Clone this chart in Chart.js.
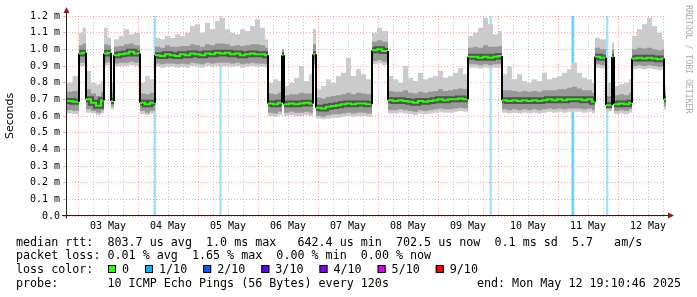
<!DOCTYPE html>
<html>
<head>
<meta charset="utf-8">
<script src="https://cdn.jsdelivr.net/npm/chart.js@4.4.1/dist/chart.umd.min.js"></script>
<style>
  html, body { margin: 0; padding: 0; background: #fff; }
  canvas { display: block; }
</style>
</head>
<body>
<canvas id="chart" width="697" height="297"></canvas>
<script>
// x is hours since Fri May 02 19:10:46, the graph covers 10 days
const windowHours = 240;
const firstMidnight = 4.82; // 03 May 00:00
const dayLabels = ['03 May', '04 May', '05 May', '06 May', '07 May', '08 May', '09 May', '10 May', '11 May', '12 May'];

// start of each sample (hours), one row per flat stretch of the graph
const sampleHours = [
  0, 2.6,
  5.2, 6.6,
  8, 10, 12, 14,
  15.2, 16.6,
  18,
  19.2, 21.2, 23.2, 25.2, 27.2,
  29.6, 31.6, 33.6,
  35.6, 37.6, 39.6, 41.6, 43.6, 45.6, 47.6, 49.6, 51.6, 53.6, 55.6, 57.6, 59.6, 61.6, 63.6, 65.6, 67.6, 69.6, 71.6, 73.6, 75.6, 77.6, 79.6,
  80.8, 82.8, 84.8,
  86.4,
  87.2, 89.2, 91.2, 93.2, 95.2, 97.2,
  98.8,
  100, 102, 104, 106, 108, 110, 112, 114, 116, 118, 120,
  122.4, 124.4, 126.4,
  128.8, 130.8, 132.8, 134.8, 136.8, 138.8, 140.8, 142.8, 144.8, 146.8, 148.8, 150.8, 152.8, 154.8, 156.8, 158.8,
  160.8, 162.8, 164.8, 166.8, 168.8, 170.8, 172.8,
  174.4, 176.4, 178.4, 180.4, 182.4, 184.4, 186.4, 188.4, 190.4, 192.4, 194.4, 196.4, 198.4, 200.4, 202.4, 204.4, 206.4, 208.4, 210.4,
  211.6, 213.6,
  216,
  218.4,
  219.2, 221.2, 223.2, 225.2,
  226.4, 228.4, 230.4, 232.4, 234.4, 236.4, 238.4,
  239.2
];

// median rtt (ms)
const medianRtt = [
  0.690, 0.685,
  0.975, 0.980,
  0.700, 0.680, 0.662, 0.695,
  0.975, 0.980,
  0.690,
  0.965, 0.970, 0.975, 0.985, 0.975,
  0.680, 0.670, 0.680,
  0.965, 0.960, 0.970, 0.965, 0.960, 0.970, 0.965, 0.975, 0.970, 0.965, 0.975, 0.970, 0.980, 0.975, 0.980, 0.970, 0.975, 0.965, 0.970, 0.975, 0.970, 0.970, 0.965,
  0.675, 0.670, 0.680,
  0.965,
  0.670, 0.675, 0.670, 0.675, 0.680, 0.675,
  0.970,
  0.650, 0.645, 0.655, 0.660, 0.665, 0.670, 0.675, 0.670, 0.675, 0.675, 0.670,
  0.995, 1.000, 0.990,
  0.695, 0.690, 0.695, 0.690, 0.685, 0.680, 0.690, 0.685, 0.690, 0.695, 0.700, 0.695, 0.700, 0.700, 0.705, 0.700,
  0.955, 0.955, 0.950, 0.955, 0.950, 0.955, 0.960,
  0.695, 0.690, 0.695, 0.690, 0.695, 0.690, 0.695, 0.690, 0.695, 0.700, 0.695, 0.700, 0.695, 0.700, 0.700, 0.700, 0.695, 0.700, 0.685,
  0.955, 0.950,
  0.665,
  0.955,
  0.670, 0.675, 0.670, 0.680,
  0.945, 0.950, 0.945, 0.950, 0.945, 0.940, 0.945,
  0.700
];

// lowest ping
const minRtt = [
  0.615, 0.610,
  0.900, 0.900,
  0.620, 0.615, 0.605, 0.615,
  0.900, 0.905,
  0.640,
  0.895, 0.900, 0.900, 0.905, 0.900,
  0.610, 0.605, 0.615,
  0.895, 0.890, 0.895, 0.895, 0.890, 0.895, 0.890, 0.900, 0.895, 0.890, 0.900, 0.895, 0.900, 0.900, 0.900, 0.895, 0.900, 0.890, 0.895, 0.900, 0.895, 0.895, 0.890,
  0.600, 0.595, 0.605,
  0.900,
  0.600, 0.605, 0.600, 0.600, 0.605, 0.600,
  0.890,
  0.585, 0.580, 0.585, 0.590, 0.590, 0.595, 0.600, 0.595, 0.600, 0.600, 0.595,
  0.910, 0.915, 0.905,
  0.615, 0.615, 0.620, 0.615, 0.610, 0.605, 0.615, 0.610, 0.615, 0.620, 0.625, 0.620, 0.620, 0.625, 0.630, 0.625,
  0.890, 0.890, 0.885, 0.890, 0.885, 0.890, 0.890,
  0.620, 0.615, 0.620, 0.615, 0.620, 0.615, 0.620, 0.615, 0.620, 0.625, 0.620, 0.625, 0.620, 0.625, 0.625, 0.625, 0.620, 0.625, 0.615,
  0.890, 0.885,
  0.630,
  0.900,
  0.610, 0.615, 0.610, 0.620,
  0.880, 0.885, 0.880, 0.885, 0.880, 0.875, 0.880,
  0.640
];

// lower edge of the dense smoke
const lowRtt = [
  0.635, 0.630,
  0.920, 0.920,
  0.640, 0.630, 0.620, 0.635,
  0.920, 0.925,
  0.655,
  0.915, 0.920, 0.920, 0.925, 0.920,
  0.630, 0.620, 0.630,
  0.915, 0.910, 0.915, 0.915, 0.910, 0.915, 0.910, 0.920, 0.915, 0.910, 0.920, 0.915, 0.920, 0.920, 0.920, 0.915, 0.920, 0.910, 0.915, 0.920, 0.915, 0.915, 0.910,
  0.620, 0.615, 0.625,
  0.920,
  0.620, 0.625, 0.620, 0.620, 0.625, 0.620,
  0.910,
  0.600, 0.595, 0.605, 0.610, 0.610, 0.615, 0.620, 0.615, 0.620, 0.620, 0.615,
  0.930, 0.935, 0.925,
  0.635, 0.635, 0.640, 0.635, 0.630, 0.625, 0.635, 0.630, 0.635, 0.640, 0.645, 0.640, 0.640, 0.645, 0.650, 0.645,
  0.910, 0.910, 0.905, 0.910, 0.905, 0.910, 0.910,
  0.640, 0.635, 0.640, 0.635, 0.640, 0.635, 0.640, 0.635, 0.640, 0.645, 0.640, 0.645, 0.640, 0.645, 0.645, 0.645, 0.640, 0.645, 0.635,
  0.910, 0.905,
  0.645,
  0.920,
  0.630, 0.635, 0.630, 0.640,
  0.900, 0.905, 0.900, 0.905, 0.900, 0.895, 0.900,
  0.660
];

// upper edge of the dense smoke
const highRtt = [
  0.745, 0.750,
  1.025, 1.035,
  0.760, 0.735, 0.720, 0.745,
  1.030, 1.025,
  0.740,
  1.015, 1.020, 1.030, 1.035, 1.025,
  0.735, 0.730, 0.740,
  1.015, 1.010, 1.025, 1.015, 1.015, 1.020, 1.020, 1.030, 1.025, 1.015, 1.030, 1.025, 1.035, 1.035, 1.030, 1.020, 1.025, 1.020, 1.025, 1.030, 1.030, 1.025, 1.010,
  0.735, 0.730, 0.740,
  1.000,
  0.725, 0.730, 0.730, 0.740, 0.735, 0.735,
  1.030,
  0.710, 0.705, 0.715, 0.720, 0.725, 0.730, 0.740, 0.730, 0.740, 0.735, 0.730,
  1.045, 1.055, 1.045,
  0.750, 0.745, 0.745, 0.755, 0.740, 0.735, 0.745, 0.740, 0.745, 0.750, 0.760, 0.750, 0.755, 0.760, 0.765, 0.760,
  1.010, 1.015, 1.010, 1.025, 1.015, 1.015, 1.020,
  0.755, 0.755, 0.750, 0.745, 0.750, 0.745, 0.750, 0.745, 0.755, 0.755, 0.755, 0.760, 0.760, 0.770, 0.775, 0.765, 0.755, 0.755, 0.740,
  1.010, 1.000,
  0.720,
  1.000,
  0.725, 0.730, 0.725, 0.740,
  1.000, 1.010, 1.005, 1.010, 1.000, 0.995, 1.000,
  0.740
];

// highest ping
const maxRtt = [
  0.800, 0.840,
  1.100, 1.130,
  0.870, 0.800, 0.790, 0.810,
  1.130, 1.070,
  0.800,
  1.060, 1.080, 1.120, 1.090, 1.100,
  0.800, 0.840, 0.820,
  1.070, 1.060, 1.080, 1.070, 1.090, 1.080, 1.100, 1.140, 1.150, 1.100, 1.160, 1.120, 1.170, 1.190, 1.120, 1.100, 1.090, 1.120, 1.110, 1.140, 1.180, 1.130, 1.060,
  0.800, 0.820, 0.810,
  1.000,
  0.780, 0.800, 0.830, 0.900, 0.810, 0.850,
  1.120,
  0.760, 0.780, 0.820, 0.800, 0.840, 0.860, 0.950, 0.840, 0.880, 0.850, 0.820,
  1.100, 1.130, 1.110,
  0.840, 0.820, 0.800, 0.900, 0.830, 0.810, 0.860, 0.820, 0.830, 0.840, 0.870, 0.830, 0.840, 0.860, 0.890, 0.850,
  1.080, 1.100, 1.130, 1.190, 1.150, 1.090, 1.110,
  0.850, 0.900, 0.820, 0.850, 0.810, 0.800, 0.820, 0.810, 0.860, 0.820, 0.830, 0.840, 0.860, 0.880, 0.920, 0.860, 0.830, 0.820, 0.800,
  1.070, 1.060,
  0.800,
  1.040,
  0.780, 0.790, 0.800, 0.820,
  1.080, 1.120, 1.150, 1.190, 1.140, 1.100, 1.060,
  0.780
];

// hours with 1/10 packet loss (light blue bars)
const lossHours = [35.6, 61.8, 169.9, 202.5, 202.9, 216.5];

const statLines = [
  'median rtt:  803.7 us avg  1.0 ms max   642.4 us min  702.5 us now  0.1 ms sd  5.7   am/s',
  'packet loss: 0.01 % avg  1.65 % max  0.00 % min  0.00 % now'
];
const lossLabels = ['0', '1/10', '2/10', '3/10', '4/10', '5/10', '9/10'];
const probeText = 'probe:       10 ICMP Echo Pings (56 Bytes) every 120s';
const endText = 'end: Mon May 12 19:10:46 2025';

const lossColors = ['#26ff00', '#00b8ff', '#0059ff', '#5e00ff', '#7e00ff', '#dd00ff', '#ff0000'];
const MONO = '"DejaVu Sans Mono"';
const MGRID = 'rgba(255, 40, 40, 0.42)';
const GRID = 'rgba(110, 110, 110, 0.35)';

// stepped series: each sample holds until the next one
function stepPoints(vals) {
  const pts = sampleHours.map((h, i) => ({ x: h, y: vals[i] }));
  pts.push({ x: windowHours, y: vals[vals.length - 1] });
  return pts;
}

// median with explicit flat and vertical pieces so the big jumps can be black
const medianPts = [];
sampleHours.forEach((h, i) => {
  const end = i + 1 < sampleHours.length ? sampleHours[i + 1] : windowHours;
  medianPts.push({ x: h, y: medianRtt[i] }, { x: end, y: medianRtt[i] });
});
const isJump = c => c.p0.parsed.x === c.p1.parsed.x && Math.abs(c.p1.parsed.y - c.p0.parsed.y) > 0.1;

const isMidnight = v => Math.abs((v - firstMidnight) % 24) < 0.01;
const isNoon = v => Math.abs((v - firstMidnight) % 24 - 12) < 0.01;

// axis lines with arrows, legend block and the rrdtool watermark
const rrdPlugin = {
  id: 'rrdDecor',
  afterDraw(chart) {
    const { ctx, chartArea: a, scales: { x, y } } = chart;
    const y0 = Math.round(y.getPixelForValue(0)) - 0.5;
    const x0 = Math.round(x.getPixelForValue(0)) + 0.5;
    ctx.save();
    ctx.strokeStyle = '#202020';
    ctx.lineWidth = 1;
    ctx.beginPath();
    ctx.moveTo(a.left - 4, y0);
    ctx.lineTo(a.right + 2, y0);
    ctx.moveTo(x0, y0 + 3);
    ctx.lineTo(x0, a.top - 3);
    ctx.stroke();
    ctx.fillStyle = '#931b1b';
    ctx.beginPath();
    ctx.moveTo(a.right + 2, y0 - 3);
    ctx.lineTo(a.right + 8, y0);
    ctx.lineTo(a.right + 2, y0 + 3);
    ctx.closePath();
    ctx.fill();
    ctx.beginPath();
    ctx.moveTo(x0 - 3, a.top - 3);
    ctx.lineTo(x0, a.top - 9);
    ctx.lineTo(x0 + 3, a.top - 3);
    ctx.closePath();
    ctx.fill();

    // legend
    ctx.fillStyle = '#000';
    ctx.font = '11.7px ' + MONO;
    ctx.textBaseline = 'alphabetic';
    ctx.textAlign = 'left';
    ctx.fillText(statLines[0], 16, 245.5);
    ctx.fillText(statLines[1], 16, 259);
    ctx.fillText('loss color:', 16, 273);
    let bx = 108;
    lossLabels.forEach((lab, i) => {
      ctx.fillStyle = lossColors[i];
      ctx.fillRect(bx, 265, 8, 8);
      ctx.strokeStyle = '#000';
      ctx.strokeRect(bx + 0.5, 265.5, 7, 7);
      ctx.fillStyle = '#000';
      ctx.fillText(lab, bx + 14, 273);
      bx += 14 + ctx.measureText(lab).width + 16;
    });
    ctx.fillText(probeText, 16, 287);
    ctx.textAlign = 'right';
    ctx.fillText(endText, 681, 287);

    // watermark
    ctx.translate(688, 5);
    ctx.rotate(Math.PI / 2);
    ctx.textAlign = 'left';
    ctx.textBaseline = 'middle';
    ctx.font = '8.2px ' + MONO;
    ctx.fillStyle = '#ababab';
    ctx.fillText('RRDTOOL / TOBI OETIKER', 0, 0);
    ctx.restore();
  }
};

const stepLine = {
  type: 'line',
  stepped: true,
  pointRadius: 0,
  borderWidth: 0,
  borderColor: 'rgba(0,0,0,0)'
};

new Chart(document.getElementById('chart'), {
  type: 'line',
  data: {
    datasets: [
      {
        type: 'bar',
        data: lossHours.map(h => ({ x: h, y: [0, 1.2] })),
        backgroundColor: 'rgba(0, 184, 255, 0.4)',
        borderWidth: 0,
        barThickness: 1.5,
        order: 6
      },
      { ...stepLine, data: stepPoints(minRtt), fill: false, order: 5 },
      { ...stepLine, data: stepPoints(maxRtt), fill: '-1', backgroundColor: '#cbcbcb', order: 4 },
      { ...stepLine, data: stepPoints(lowRtt), fill: false, order: 3 },
      { ...stepLine, data: stepPoints(highRtt), fill: '-1', backgroundColor: '#989898', order: 2 },
      {
        type: 'line',
        data: medianPts,
        pointRadius: 0,
        borderWidth: 6,
        borderCapStyle: 'butt',
        borderColor: '#525252',
        segment: { borderColor: c => isJump(c) ? 'rgba(0,0,0,0)' : '#525252' },
        fill: false,
        order: 1
      },
      {
        type: 'line',
        data: medianPts,
        pointRadius: 0,
        borderWidth: 2,
        borderCapStyle: 'butt',
        borderColor: '#26ff00',
        segment: { borderColor: c => isJump(c) ? '#000000' : '#26ff00' },
        fill: false,
        order: 0
      }
    ]
  },
  options: {
    responsive: false,
    devicePixelRatio: 1,
    animation: false,
    events: [],
    layout: { padding: { top: 16, right: 31, bottom: 0, left: 0 } },
    plugins: { legend: { display: false }, tooltip: { enabled: false } },
    elements: { line: { tension: 0 } },
    scales: {
      x: {
        type: 'linear',
        min: 0,
        max: windowHours,
        offset: false,
        z: 1,
        afterFit: s => { s.height = 81; },
        afterBuildTicks: s => {
          const t = [];
          for (let h = firstMidnight; h <= windowHours; h += 6) t.push({ value: h });
          s.ticks = t;
        },
        grid: {
          offset: false,
          drawTicks: false,
          color: c => (c.tick && isMidnight(c.tick.value)) ? MGRID : GRID
        },
        border: { display: false, dash: [1, 2] },
        ticks: {
          autoSkip: false,
          maxRotation: 0,
          padding: 4,
          color: '#000',
          font: { family: MONO, size: 10 },
          callback: v => isNoon(v) ? dayLabels[Math.floor((v - firstMidnight) / 24)] : ''
        }
      },
      y: {
        min: 0,
        max: 1.2,
        z: 1,
        afterFit: s => { s.width = 66; },
        grid: { color: MGRID, tickLength: 3, tickColor: MGRID },
        border: { display: false, dash: [1, 2] },
        title: {
          display: true,
          text: 'Seconds',
          color: '#000',
          font: { family: 'DejaVu Sans', size: 11 },
          padding: { top: 4, bottom: 0 }
        },
        ticks: {
          stepSize: 0.1,
          padding: 3,
          color: '#000',
          font: { family: MONO, size: 10 },
          callback: v => Math.abs(v) < 1e-9 ? '0.0' : v.toFixed(1) + ' m'
        }
      }
    }
  },
  plugins: [rrdPlugin]
});
</script>
</body>
</html>
